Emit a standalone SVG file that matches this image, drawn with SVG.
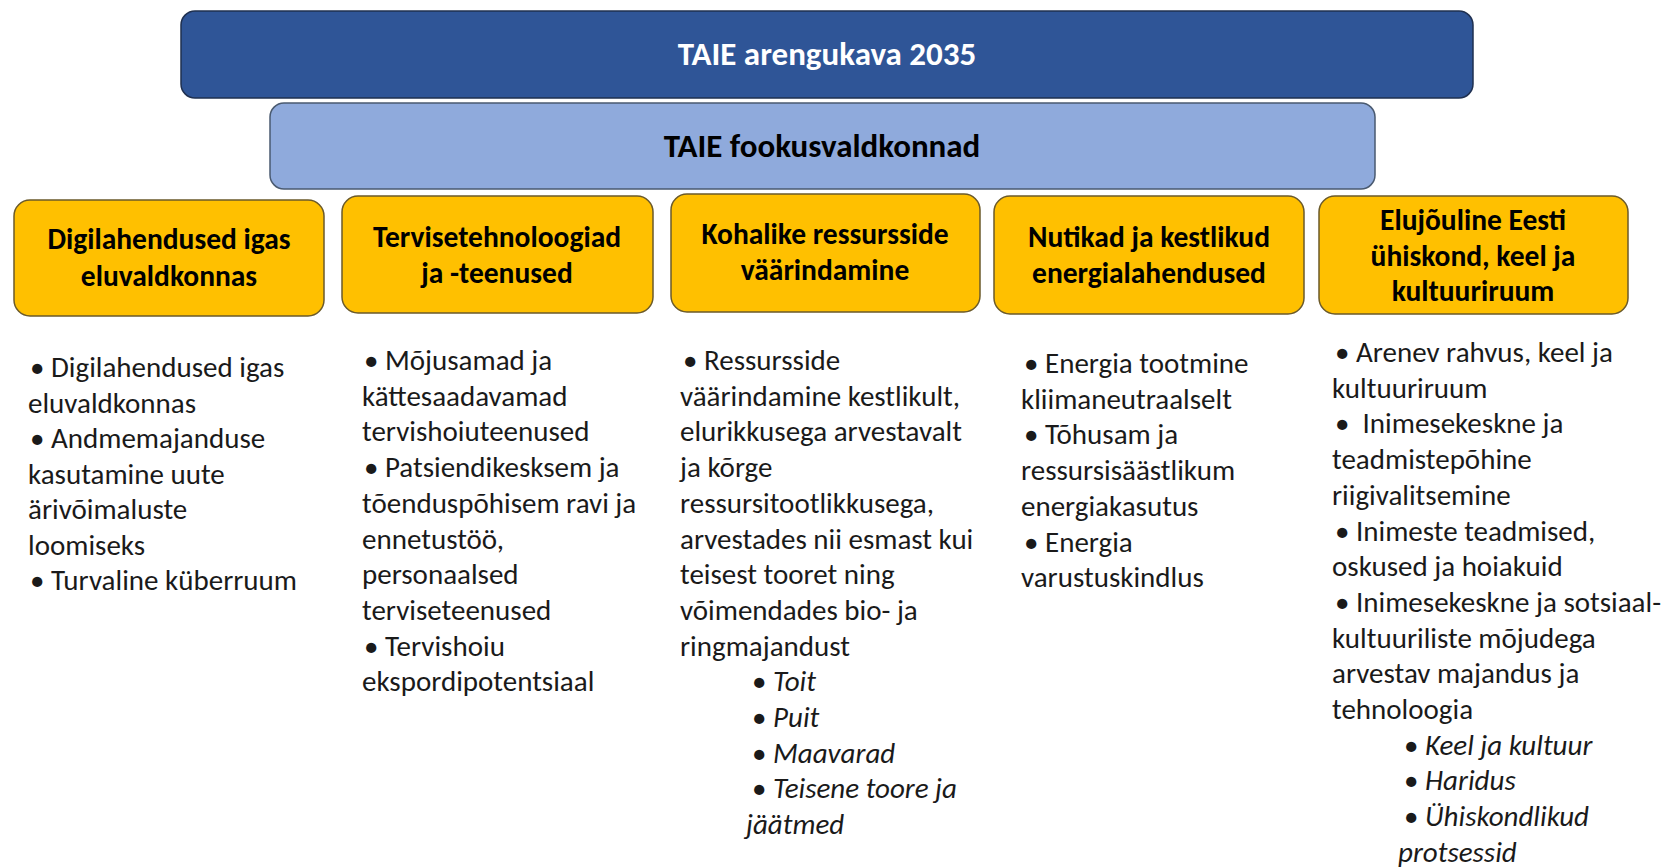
<svg xmlns="http://www.w3.org/2000/svg" width="1664" height="868" viewBox="0 0 1664 868">
<style>
text{font-family:Carlito,Lato,"Liberation Sans",sans-serif;}
.hd{font-weight:bold;font-size:33px;text-anchor:middle;}
.w{fill:#ffffff;}
.k{fill:#000000;}
.ft{font-weight:bold;font-size:29.5px;text-anchor:middle;fill:#000;}
.b{font-size:29px;fill:#1a1a1a;}
.i{font-style:italic;}
.yb{fill:#FFC000;stroke:#6b5a2a;stroke-width:1.5;}
</style>
<rect width="1664" height="868" fill="#ffffff"/>
<g id="top">
<rect x="181" y="11" width="1292" height="87" rx="14" fill="#2F5597" stroke="#1f3050" stroke-width="1.5"/>
<text class="hd w" x="827" y="65">TAIE arengukava 2035</text>
</g>
<g id="focus">
<rect x="270" y="103" width="1105" height="86" rx="14" fill="#8FAADC" stroke="#4a5a70" stroke-width="1.5"/>
<text class="hd k" x="822" y="157">TAIE fookusvaldkonnad</text>
</g>
<g id="connectors"></g>
<g id="f1">
<rect class="yb" x="14" y="200" width="310" height="116" rx="16"/>
<text class="ft" x="169" y="249">Digilahendused igas</text>
<text class="ft" x="169" y="286">eluvaldkonnas</text>
</g>
<g id="f2">
<rect class="yb" x="342" y="196" width="311" height="117" rx="16"/>
<text class="ft" x="497" y="247">Tervisetehnoloogiad</text>
<text class="ft" x="497" y="283">ja -teenused</text>
</g>
<g id="f3">
<rect class="yb" x="671" y="194" width="309" height="118" rx="16"/>
<text class="ft" x="825" y="244">Kohalike ressursside</text>
<text class="ft" x="825" y="280">väärindamine</text>
</g>
<g id="f4">
<rect class="yb" x="994" y="196" width="310" height="118" rx="16"/>
<text class="ft" x="1149" y="247">Nutikad ja kestlikud</text>
<text class="ft" x="1149" y="283">energialahendused</text>
</g>
<g id="f5">
<rect class="yb" x="1319" y="196" width="309" height="118" rx="16"/>
<text class="ft" x="1473" y="230">Elujõuline Eesti</text>
<text class="ft" x="1473" y="266">ühiskond, keel ja</text>
<text class="ft" x="1473" y="301">kultuuriruum</text>
</g>
<g id="list1">
<text class="b" x="30" y="377">• Digilahendused igas</text>
<text class="b" x="28" y="412.5">eluvaldkonnas</text>
<text class="b" x="30" y="448">• Andmemajanduse</text>
<text class="b" x="28" y="483.5">kasutamine uute</text>
<text class="b" x="28" y="519">ärivõimaluste</text>
<text class="b" x="28" y="554.5">loomiseks</text>
<text class="b" x="30" y="590">• Turvaline küberruum</text>
</g>
<g id="list2">
<text class="b" x="364" y="370">• Mõjusamad ja</text>
<text class="b" x="362" y="405.7">kättesaadavamad</text>
<text class="b" x="362" y="441.4">tervishoiuteenused</text>
<text class="b" x="364" y="477.1">• Patsiendikesksem ja</text>
<text class="b" x="362" y="512.8">tõenduspõhisem ravi ja</text>
<text class="b" x="362" y="548.5">ennetustöö,</text>
<text class="b" x="362" y="584.2">personaalsed</text>
<text class="b" x="362" y="619.9">terviseteenused</text>
<text class="b" x="364" y="655.6">• Tervishoiu</text>
<text class="b" x="362" y="691.3">ekspordipotentsiaal</text>
</g>
<g id="list3">
<text class="b" x="683" y="370">• Ressursside</text>
<text class="b" x="680" y="405.7">väärindamine kestlikult,</text>
<text class="b" x="680" y="441.4">elurikkusega arvestavalt</text>
<text class="b" x="680" y="477.1">ja kõrge</text>
<text class="b" x="680" y="512.8">ressursitootlikkusega,</text>
<text class="b" x="680" y="548.5">arvestades nii esmast kui</text>
<text class="b" x="680" y="584.2">teisest tooret ning</text>
<text class="b" x="680" y="619.9">võimendades bio- ja</text>
<text class="b" x="680" y="655.6">ringmajandust</text>
<text class="b" x="752" y="691.3">• <tspan class="i">Toit</tspan></text>
<text class="b" x="752" y="727">• <tspan class="i">Puit</tspan></text>
<text class="b" x="752" y="762.7">• <tspan class="i">Maavarad</tspan></text>
<text class="b" x="752" y="798.4">• <tspan class="i">Teisene toore ja</tspan></text>
<text class="b i" x="746" y="834.1">jäätmed</text>
</g>
<g id="list4">
<text class="b" x="1024" y="373">• Energia tootmine</text>
<text class="b" x="1021" y="408.7">kliimaneutraalselt</text>
<text class="b" x="1024" y="444.4">• Tõhusam ja</text>
<text class="b" x="1021" y="480.1">ressursisäästlikum</text>
<text class="b" x="1021" y="515.8">energiakasutus</text>
<text class="b" x="1024" y="551.5">• Energia</text>
<text class="b" x="1021" y="587.2">varustuskindlus</text>
</g>
<g id="list5">
<text class="b" x="1335" y="362">• Arenev rahvus, keel ja</text>
<text class="b" x="1332" y="397.7">kultuuriruum</text>
<text class="b" x="1335" y="433.4" style="white-space:pre">•  Inimesekeskne ja</text>
<text class="b" x="1332" y="469.1">teadmistepõhine</text>
<text class="b" x="1332" y="504.8">riigivalitsemine</text>
<text class="b" x="1335" y="540.5">• Inimeste teadmised,</text>
<text class="b" x="1332" y="576.2">oskused ja hoiakuid</text>
<text class="b" x="1335" y="611.9">• Inimesekeskne ja sotsiaal-</text>
<text class="b" x="1332" y="647.6">kultuuriliste mõjudega</text>
<text class="b" x="1332" y="683.3">arvestav majandus ja</text>
<text class="b" x="1332" y="719">tehnoloogia</text>
<text class="b" x="1404" y="754.7">• <tspan class="i">Keel ja kultuur</tspan></text>
<text class="b" x="1404" y="790.4">• <tspan class="i">Haridus</tspan></text>
<text class="b" x="1404" y="826.1">• <tspan class="i">Ühiskondlikud</tspan></text>
<text class="b i" x="1398" y="861.8">protsessid</text>
</g>
</svg>
